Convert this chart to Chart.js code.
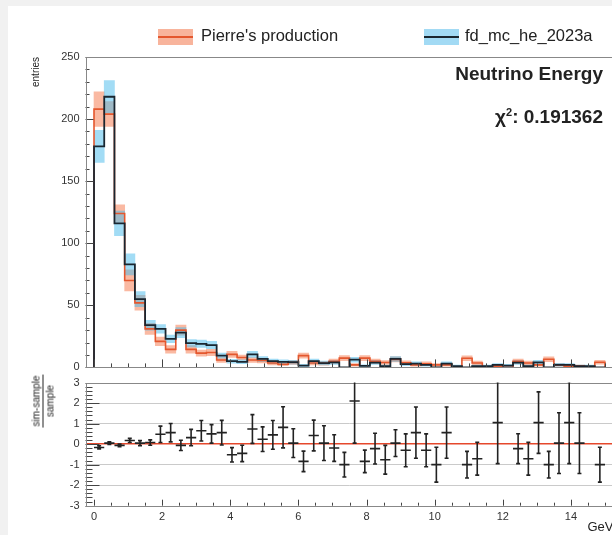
<!DOCTYPE html>
<html>
<head>
<meta charset="utf-8">
<script src="https://cdn.jsdelivr.net/npm/chart.js@4.4.0/dist/chart.umd.min.js"></script>
<style>
    html, body { margin: 0; padding: 0; background: #f1f1f1; overflow: hidden; }
    #wrap { position: relative; width: 612px; height: 535px; overflow: hidden; font-family: "Liberation Sans", Arial, sans-serif; color: #222; }
    #paper { position: absolute; left: 8px; top: 6px; width: 604px; height: 529px; background: #fff; }
    #energy_chart { position: absolute; left: 0; top: 0; }
    #ratio_chart { position: absolute; left: 0; top: 370px; }
    .legend_box { position: absolute; top: 29px; width: 35px; height: 16px; }
    .legend_line { position: absolute; left: 0; top: 7px; width: 35px; height: 2px; }
    .legend_text { position: absolute; top: 27px; font-size: 16.5px; line-height: 16.5px; white-space: nowrap; }
    .stat_text { position: absolute; right: 9px; font-size: 19px; line-height: 19px; font-weight: bold; white-space: nowrap; }
    .stat_text sup { font-size: 11px; line-height: 0; }
    #ratio_title { position: absolute; left: 43px; top: 401px; transform: translate(-50%, -50%) rotate(-90deg); font-size: 10px; text-align: center; white-space: nowrap; }
    #ratio_title div { display: block; line-height: 11px; height: 11px; }
    #ratio_title .num { border-bottom: 1px solid #222; padding: 0 1px 1px 1px; }
    #ratio_title .den { padding-top: 1px; }
</style>
</head>
<body>
<div id="wrap">
    <div id="paper"></div>
    <canvas id="energy_chart" width="616" height="380"></canvas>
    <canvas id="ratio_chart" width="616" height="165"></canvas>

    <!-- 凡例 -->
    <div class="legend_box" style="left:158px; background:#f8b49c;"><div class="legend_line" style="background:#e4572e;"></div></div>
    <div class="legend_text" style="left:201px;">Pierre's production</div>
    <div class="legend_box" style="left:424px; background:#a2daf4;"><div class="legend_line" style="background:#1a2630;"></div></div>
    <div class="legend_text" style="left:465px;">fd_mc_he_2023a</div>

    <!-- 統計情報 -->
    <div class="stat_text" style="top:64px;">Neutrino Energy</div>
    <div class="stat_text" style="top:107px;">χ<sup>2</sup>: 0.191362</div>

    <!-- 比の軸タイトル -->
    <div id="ratio_title"><div class="num">sim-sample</div><div class="den">sample</div></div>
</div>
<script>
// ビンの下端 (GeV)
const bin_low = [0.0, 0.3, 0.6, 0.9, 1.2, 1.5, 1.8, 2.1, 2.4, 2.7,
                 3.0, 3.3, 3.6, 3.9, 4.2, 4.5, 4.8, 5.1, 5.4, 5.7,
                 6.0, 6.3, 6.6, 6.9, 7.2, 7.5, 7.8, 8.1, 8.4, 8.7,
                 9.0, 9.3, 9.6, 9.9, 10.2, 10.5, 10.8, 11.1, 11.4, 11.7,
                 12.0, 12.3, 12.6, 12.9, 13.2, 13.5, 13.8, 14.1, 14.4, 14.7];
const bin_width = 0.3;

// Pierre's production のエントリ数と誤差
const pierre_entries = [208, 204, 124, 70, 52, 31, 21, 14.5, 30, 14.5,
                        11.5, 12, 6, 10.5, 8, 6, 5.5, 3.5, 2.5, 4,
                        9.5, 3.5, 3.3, 5, 7.5, 2, 7.5, 5, 4, 6.5,
                        3.7, 2, 3, 2, 2, 0, 7.4, 3.5, 0, 1,
                        0, 5, 3.5, 2, 6.6, 2, 1, 1, 0, 4.2];
const pierre_errors = [14, 10, 7, 8.5, 6, 4.5, 3.5, 3, 4, 3,
                       2.5, 2.5, 2, 2.5, 2, 2, 1.8, 1.5, 1.2, 1.5,
                       2, 1.5, 1.5, 1.8, 2, 1, 2, 1.8, 1.5, 2,
                       1.5, 1, 1.5, 1, 1, 0, 2, 1.5, 0, 0.8,
                       0, 1.8, 1.5, 1, 2, 1, 0.8, 0.8, 0, 1.5];

// fd_mc_he_2023a のエントリ数と誤差
const fd_mc_entries = [178, 218, 116, 83, 55, 34, 31, 23, 28, 19.5,
                       19, 18, 9.5, 5, 4.5, 10.5, 6.8, 5, 4.5, 4.2,
                       1.5, 5, 3.5, 4, 0, 6.2, 1.2, 3.9, 1, 6.8,
                       2.6, 3.1, 2.1, 0, 3.1, 1, 0, 1, 1, 2,
                       1.5, 3.9, 1, 4.1, 0, 2.1, 2, 1.05, 1, 0];
const fd_mc_errors = [13, 13, 10, 8.5, 6, 4, 3.5, 3, 4, 3,
                      3, 3, 2, 1.5, 1.5, 2.5, 2, 1.8, 1.5, 1.5,
                      1, 1.8, 1.5, 1.5, 0, 2, 0.8, 1.5, 0.8, 2,
                      1.2, 1.3, 1.1, 0, 1.3, 0.8, 0, 0.8, 0.8, 1.1,
                      1, 1.5, 0.8, 1.6, 0, 1.1, 1.1, 0.8, 0.8, 0];

// (sim-sample)/sample の値と誤差 (nullは点なし)
const ratio_values = [-0.16, 0.05, -0.06, 0.18, 0.05, 0.08, 0.48, 0.56, -0.06, 0.32,
                      0.65, 0.5, 0.56, -0.52, -0.45, 0.74, 0.24, 0.45, 0.82, 0.05,
                      -0.84, 0.42, 0.05, -0.19, -1.0, 2.1, -0.84, -0.22, -0.76, 0.05,
                      -0.3, 0.56, -0.3, -1.0, 0.56, null, -1.0, -0.71, null, 1.05,
                      null, -0.22, -0.71, 1.05, -1.0, 0.05, 1.05, 0.05, null, -1.0];
const ratio_errors = [0.08, 0.06, 0.07, 0.1, 0.12, 0.13, 0.4, 0.45, 0.25, 0.4,
                      0.5, 0.45, 0.6, 0.35, 0.4, 0.7, 0.6, 0.7, 1.0, 0.7,
                      0.5, 0.75, 0.85, 0.65, 0.6, 2.05, 0.55, 0.75, 0.7, 0.65,
                      0.8, 1.25, 0.8, 0.85, 1.25, null, 0.65, 0.8, null, 2.0,
                      null, 0.73, 0.8, 1.5, 0.65, 1.48, 2.0, 1.48, null, 0.85];

// 目盛りラベル
const entries_ticks = [0, 50, 100, 150, 200, 250];
const ratio_ticks = [-3, -2, -1, 0, 1, 2, 3];
const energy_ticks = [0, 2, 4, 6, 8, 10, 12, 14];

// x軸の範囲
const x_min = -0.25;
const x_max = 15.25;

Chart.defaults.font.family = '"Liberation Sans", Arial, sans-serif';

// 階段状の線用のデータを作成
function make_step_points(values){
    let points = [{x: bin_low[0], y: 0}];
    values.forEach(function(value, index){
        points.push({x: bin_low[index], y: value});
    });
    const last_edge = bin_low[bin_low.length - 1] + bin_width;
    points.push({x: last_edge, y: values[values.length - 1]});
    points.push({x: last_edge, y: 0});
    return points;
}

// 誤差帯(浮動棒)用のデータを作成
function make_band(values, errors){
    return values.map(function(value, index){
        return {x: bin_low[index] + bin_width / 2, y: [value - errors[index], value + errors[index]]};
    });
}

// 比の点データを作成
function make_ratio_points(){
    let points = [];
    ratio_values.forEach(function(value, index){
        points.push({x: bin_low[index] + bin_width / 2, y: value, y_err: ratio_errors[index]});
    });
    return points;
}

// ROOT風の内向き目盛りと枠を描くプラグイン
const root_frame_plugin = {
    id: 'root_frame',
    afterDatasetsDraw(chart, args, opts){
        const ctx = chart.ctx;
        const area = chart.chartArea;
        const x_scale = chart.scales.x;
        const y_scale = chart.scales.y;
        ctx.save();
        ctx.lineWidth = 1;
        ctx.strokeStyle = opts.tick_color;
        // x軸の目盛り
        const x_opt = opts.x;
        for(let n = Math.ceil(x_opt.from / x_opt.minor); n <= Math.floor(x_opt.to / x_opt.minor + 1e-9); n++){
            const value = n * x_opt.minor;
            const is_major = Math.abs(value / x_opt.major - Math.round(value / x_opt.major)) < 1e-6;
            const len = is_major ? x_opt.major_len : x_opt.minor_len;
            const px = Math.round(x_scale.getPixelForValue(value)) + 0.5;
            ctx.beginPath();
            ctx.moveTo(px, area.bottom);
            ctx.lineTo(px, area.bottom - len);
            ctx.stroke();
        }
        // y軸の目盛り
        const y_opt = opts.y;
        for(let n = Math.ceil(y_opt.from / y_opt.minor - 1e-9); n <= Math.floor(y_opt.to / y_opt.minor + 1e-9); n++){
            const value = n * y_opt.minor;
            const is_major = Math.abs(value / y_opt.major - Math.round(value / y_opt.major)) < 1e-6;
            const len = is_major ? y_opt.major_len : y_opt.minor_len;
            const py = Math.round(y_scale.getPixelForValue(value)) + 0.5;
            ctx.beginPath();
            ctx.moveTo(area.left, py);
            ctx.lineTo(area.left + len, py);
            ctx.stroke();
        }
        // 枠線
        ctx.strokeStyle = opts.frame_color;
        ctx.strokeRect(Math.round(area.left) + 0.5, Math.round(area.top) + 0.5,
                       Math.round(area.width), Math.round(area.height));
        ctx.restore();
    }
};

// 比の点を十字(ビン幅＋誤差棒)で描くプラグイン
const error_cross_plugin = {
    id: 'error_cross',
    afterDatasetsDraw(chart){
        const ctx = chart.ctx;
        const area = chart.chartArea;
        const x_scale = chart.scales.x;
        const y_scale = chart.scales.y;
        ctx.save();
        ctx.beginPath();
        ctx.rect(area.left, area.top, area.width, area.height);
        ctx.clip();
        ctx.strokeStyle = '#222';
        ctx.lineWidth = 1.6;
        chart.data.datasets[0].data.forEach(function(point){
            if(point.y === null){
                return;
            }
            const px = x_scale.getPixelForValue(point.x);
            const py = y_scale.getPixelForValue(point.y);
            const left = x_scale.getPixelForValue(point.x - bin_width / 2);
            const right = x_scale.getPixelForValue(point.x + bin_width / 2);
            const top = y_scale.getPixelForValue(point.y + point.y_err);
            const bottom = y_scale.getPixelForValue(point.y - point.y_err);
            ctx.beginPath();
            ctx.moveTo(left, py);
            ctx.lineTo(right, py);
            ctx.moveTo(px, top);
            ctx.lineTo(px, bottom);
            ctx.moveTo(px - 2, top);
            ctx.lineTo(px + 2, top);
            ctx.moveTo(px - 2, bottom);
            ctx.lineTo(px + 2, bottom);
            ctx.stroke();
        });
        ctx.restore();
    }
};

// 上段: エネルギー分布
new Chart(document.getElementById('energy_chart'), {
    type: 'line',
    data: {
        datasets: [
            {
                label: 'fd_mc_he_2023a',
                data: make_step_points(fd_mc_entries),
                stepped: 'before',
                borderColor: '#1a2630',
                borderWidth: 1.8,
                pointRadius: 0,
                fill: false,
                order: 0
            },
            {
                label: "Pierre's production",
                data: make_step_points(pierre_entries),
                stepped: 'before',
                borderColor: '#e4572e',
                borderWidth: 1.6,
                pointRadius: 0,
                fill: false,
                order: 1
            },
            {
                type: 'bar',
                label: 'fd_mc_he_2023a band',
                data: make_band(fd_mc_entries, fd_mc_errors),
                backgroundColor: 'rgba(70, 185, 235, 0.5)',
                borderWidth: 0,
                grouped: false,
                barPercentage: 1,
                categoryPercentage: 1,
                order: 2
            },
            {
                type: 'bar',
                label: "Pierre's production band",
                data: make_band(pierre_entries, pierre_errors),
                backgroundColor: 'rgba(245, 115, 70, 0.5)',
                borderWidth: 0,
                grouped: false,
                barPercentage: 1,
                categoryPercentage: 1,
                order: 3
            }
        ]
    },
    options: {
        responsive: false,
        animation: false,
        devicePixelRatio: 1,
        layout: {padding: {top: 57, right: 2.5, left: 0, bottom: 0}},
        plugins: {
            legend: {display: false},
            tooltip: {enabled: false},
            root_frame: {
                tick_color: '#444',
                frame_color: '#888',
                x: {from: 0, to: 15, major: 2, minor: 0.5, major_len: 8, minor_len: 4},
                y: {from: 0, to: 250, major: 50, minor: 10, major_len: 8, minor_len: 4}
            }
        },
        scales: {
            x: {
                type: 'linear',
                min: x_min,
                max: x_max,
                offset: false,
                grid: {display: false, drawTicks: false},
                border: {display: false},
                ticks: {display: false},
                afterFit: function(scale){ scale.height = 7.3; }
            },
            y: {
                type: 'linear',
                min: 0,
                max: 250,
                grid: {display: false, drawTicks: false},
                border: {display: false},
                ticks: {padding: 6, color: '#333', font: {size: 11}},
                afterBuildTicks: function(scale){
                    scale.ticks = entries_ticks.map(function(v){ return {value: v}; });
                },
                afterFit: function(scale){ scale.width = 85.5; },
                title: {
                    display: true,
                    text: 'entries',
                    align: 'end',
                    color: '#222',
                    font: {size: 10},
                    padding: {top: 30, bottom: 0}
                }
            }
        }
    },
    plugins: [root_frame_plugin]
});

// 下段: 比 (sim-sample)/sample
new Chart(document.getElementById('ratio_chart'), {
    type: 'line',
    data: {
        datasets: [{
            label: 'ratio',
            data: make_ratio_points(),
            showLine: false,
            pointRadius: 0
        }]
    },
    options: {
        responsive: false,
        animation: false,
        devicePixelRatio: 1,
        layout: {padding: {top: 11.7, right: 2.5, left: 0, bottom: 0}},
        plugins: {
            legend: {display: false},
            tooltip: {enabled: false},
            root_frame: {
                tick_color: '#444',
                frame_color: '#888',
                x: {from: 0, to: 15, major: 2, minor: 0.5, major_len: 6, minor_len: 3},
                y: {from: -3, to: 3, major: 1, minor: 0.2, major_len: 14, minor_len: 7}
            }
        },
        scales: {
            x: {
                type: 'linear',
                min: x_min,
                max: x_max,
                offset: false,
                grid: {display: false, drawTicks: false},
                border: {display: false},
                ticks: {padding: 5, color: '#333', font: {size: 11}},
                afterBuildTicks: function(scale){
                    scale.ticks = energy_ticks.map(function(v){ return {value: v}; });
                },
                afterFit: function(scale){ scale.height = 29.3; },
                title: {
                    display: true,
                    text: 'GeV',
                    align: 'end',
                    color: '#222',
                    font: {size: 13},
                    padding: {top: 0, bottom: 0}
                }
            },
            y: {
                type: 'linear',
                min: -3,
                max: 3,
                grid: {
                    drawTicks: false,
                    color: function(ctx){
                        if(!ctx.tick){ return 'rgba(0,0,0,0)'; }
                        if(ctx.tick.value === 0){ return '#e5482c'; }
                        if(Math.abs(ctx.tick.value) === 3){ return 'rgba(0,0,0,0)'; }
                        return '#cacaca';
                    },
                    lineWidth: function(ctx){
                        return ctx.tick && ctx.tick.value === 0 ? 1.6 : 1;
                    }
                },
                border: {display: false},
                ticks: {padding: 6, color: '#333', font: {size: 11}},
                afterBuildTicks: function(scale){
                    scale.ticks = ratio_ticks.map(function(v){ return {value: v}; });
                },
                afterFit: function(scale){ scale.width = 85.5; }
            }
        }
    },
    plugins: [root_frame_plugin, error_cross_plugin]
});
</script>
</body>
</html>
